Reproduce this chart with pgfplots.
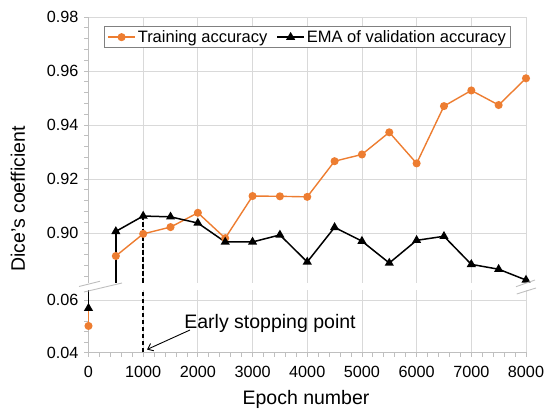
\documentclass[border=0pt]{standalone}
\usepackage{fontspec}
\setmainfont{Liberation Sans}
\usepackage{pgfplots}
\pgfplotsset{compat=1.18}
\usetikzlibrary{arrows.meta}
\definecolor{orangeS}{RGB}{237,125,49}
\definecolor{gridc}{RGB}{217,217,217}
\definecolor{axc}{RGB}{191,191,191}
\definecolor{legc}{RGB}{128,128,128}
\begin{document}
\begin{tikzpicture}
\useasboundingbox (0bp,0bp) rectangle (550bp,418bp);
\pgfplotsset{
  common/.style={
    scale only axis, width=437.5bp, xmin=0, xmax=8000, clip=false,
    axis lines*=left, axis line style={draw=axc, line width=0.8bp},
    tick align=outside, major tick length=4bp, minor tick length=4bp,
    every tick/.style={draw=axc, line width=0.8bp},
    grid=major, major grid style={draw=gridc, line width=0.8bp},
    xtick={0,1000,2000,3000,4000,5000,6000,7000,8000},
    scaled y ticks=false, scaled x ticks=false,
    tick label style={font=\fontsize{16.2bp}{19bp}\selectfont},
    /pgf/number format/assume math mode=true,
    /pgf/number format/set thousands separator={},
    yticklabel style={/pgf/number format/fixed, /pgf/number format/fixed zerofill, /pgf/number format/precision=2, inner sep=0pt, xshift=-6bp},
    xticklabel style={inner sep=0pt, yshift=-9bp},
  },
  trainS/.style={draw=orangeS, line width=1.4bp, mark=*, mark size=3.3bp, mark options={fill=orangeS, draw=orangeS, solid}},
  emaS/.style={draw=black, line width=1.5bp, mark=triangle*, mark size=3.8bp, mark options={fill=black, solid}},
}
% upper panel
\begin{axis}[common, at={(88.5bp,135bp)}, anchor=south west, height=266bp,
  ymin=0.8815, ymax=0.98,
  ytick={0.90,0.92,0.94,0.96,0.98},
  minor ytick={0.884,0.888,0.892,0.896,0.904,0.908,0.912,0.916,0.924,0.928,0.932,0.936,0.944,0.948,0.952,0.956,0.964,0.968,0.972,0.976},
  xticklabels={}, xmajorticks=false, xminorticks=false,
  x axis line style={draw=none},
  legend style={at={(0.0354,0.966)}, anchor=north west, draw=legc, line width=0.8bp,
    font=\fontsize{16.5bp}{19bp}\selectfont, legend columns=2,
    inner xsep=3bp, inner ysep=2bp,
    /tikz/every even column/.append style={column sep=7bp}},
  legend image code/.code={\draw[mark repeat=2,mark phase=2,#1] plot coordinates {(0bp,0bp)(13.5bp,0bp)(27bp,0bp)};},
]
\addplot[draw=orangeS, line width=1.4bp, no marks, forget plot] coordinates {(500,0.8815)(500,0.8915)};
\addplot[trainS] coordinates {
(500,0.8915)(1000,0.8997)(1500,0.9022)(2000,0.9075)(2500,0.8981)(3000,0.9137)(3500,0.9136)(4000,0.9134)
(4500,0.9266)(5000,0.9291)(5500,0.9373)(6000,0.9258)(6500,0.9470)(7000,0.9528)(7500,0.9474)(8000,0.9573)};
\addlegendentry{Training accuracy}
\addplot[draw=black, line width=1.5bp, no marks, forget plot] coordinates {(500,0.8815)(500,0.9006)};
\addplot[black, line width=1.4bp, dash pattern=on 4.5bp off 2.5bp, no marks, forget plot] coordinates {(1000,0.8815)(1000,0.9063)};
\addplot[emaS] coordinates {
(500,0.9006)(1000,0.9063)(1500,0.9060)(2000,0.9037)(2500,0.8967)(3000,0.8967)(3500,0.8993)(4000,0.8893)
(4500,0.9021)(5000,0.8970)(5500,0.8889)(6000,0.8973)(6500,0.8988)(7000,0.8884)(7500,0.8866)(8000,0.8826)};
\addlegendentry{EMA of validation accuracy}
\end{axis}
% lower panel
\begin{axis}[common, at={(88.5bp,65.5bp)}, anchor=south west, height=62.5bp,
  ymin=0.04, ymax=0.064,
  ytick={0.04,0.06},
  minor ytick={0.044,0.048,0.052,0.056},
  minor x tick num=4,
]
\addplot[draw=orangeS, line width=1.4bp, no marks] coordinates {(0,0.0502)(0,0.064)};
\addplot[trainS, only marks] coordinates {(0,0.0502)};
\addplot[draw=black, line width=1.5bp, no marks] coordinates {(0,0.057)(0,0.064)};
\addplot[emaS, only marks] coordinates {(0,0.057)};
\addplot[black, line width=1.4bp, dash pattern=on 4.5bp off 2.5bp, no marks] coordinates {(1000,0.04)(1000,0.064)};
\end{axis}
\begin{scope}[x=1bp,y=1bp]
% break marks
\draw[axc, line width=0.9bp] (79,131.5) -- (100,136.75);
\draw[axc, line width=0.9bp] (84,126) -- (122,135);
\draw[axc, line width=0.9bp] (516,131.3) -- (535,138);
\draw[axc, line width=0.9bp] (516.7,124) -- (536,130);
% labels
\node[rotate=90, font=\fontsize{19.5bp}{22bp}\selectfont] at (18,219) {Dice's coefficient};
\node[font=\fontsize{19.5bp}{22bp}\selectfont] at (306,19) {Epoch number};
\node[font=\fontsize{19.5bp}{22bp}\selectfont] at (270,95) {Early stopping point};
\draw[-{Straight Barb[length=5bp,width=8bp]}, line width=0.9bp] (190,88) -- (147,68.5);
\end{scope}
\end{tikzpicture}
\end{document}
